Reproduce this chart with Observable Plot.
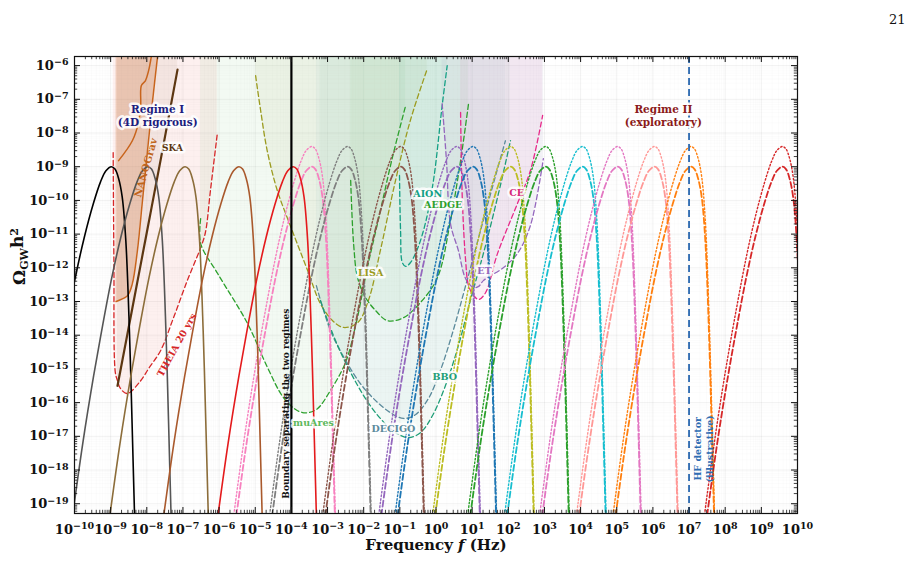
<!DOCTYPE html>
<html><head><meta charset="utf-8">
<script src="https://cdn.jsdelivr.net/npm/d3@7"></script>
<script src="https://cdn.jsdelivr.net/npm/@observablehq/plot@0.6"></script>
<style>body{margin:0;background:#fff;} svg{display:block;}</style>
</head><body><div id="chart"></div>
<script>
// ---- bump template (Δlog10 f from peak, Δlog10 Ω from peak)
const bumpShape = [[-2.4,-13.0],[-2.1,-10.5],[-1.8,-8.2],[-1.5,-6.2],[-1.25,-4.7],[-1.0,-3.3],[-0.75,-2.1],[-0.5,-1.1],[-0.3,-0.45],[-0.15,-0.12],[0,0],[0.1,-0.07],[0.2,-0.35],[0.3,-0.9],[0.4,-2.2],[0.5,-4.9],[0.57,-7.5],[0.64,-10.3],[0.72,-13.5]];
// Regime I solid bumps: peak log10 f, colors
const regimeIPeaks = [-8.98, -7.97, -6.94, -5.45, -3.95];
const regimeIColors = ["#000000","#555555","#8c6d3a","#a9592c","#e41a1c"];
const regimeIPeakOmega = -9.0;
// Regime II dashed / dotted pairs
const regimeIIPeaks = [-3.44,-2.45,-0.98,0.57,1.02,2.06,3.03,4.05,5.02,6.04,7.05,9.58];
const regimeIIColors = ["#f781bf","#7f7f7f","#8c564b","#9467bd","#1f77b4","#bcbd22","#2ca02c","#17becf","#e377c2","#ff9896","#ff7f0e","#d62728"];
const dashedPeakOmega = -9.0;
const dottedPeakOmega = -8.4;

// ---- detector sensitivity curves [log10 f, log10 Ω]
const theiaCurve = [[-8.93,-8.58],[-8.91,-11.79],[-8.87,-15.11],[-8.81,-15.35],[-8.73,-15.58],[-8.54,-15.73],[-8.17,-15.35],[-7.95,-14.99],[-7.62,-14.46],[-7.26,-13.48],[-6.88,-12.38],[-6.51,-11.40],[-6.38,-10.96],[-6.24,-9.71],[-6.05,-8.02]];
const nanogravLower = [[-8.85,-13.0],[-8.78,-12.97],[-8.53,-12.82],[-8.40,-12.47],[-8.26,-11.49],[-8.12,-10.01],[-7.98,-8.52],[-7.84,-7.04],[-7.70,-5.70]];
const nanogravUpper = [[-8.78,-8.82],[-8.40,-8.23],[-8.23,-7.69],[-8.17,-7.19],[-8.15,-6.59],[-8.04,-6.45],[-7.95,-6.15],[-7.87,-5.70]];
const skaCurve = [[-8.81,-15.5],[-8.4,-13.2],[-8.0,-10.95],[-7.6,-8.7],[-7.15,-6.12]];
const muaresCurve = [[-6.51,-10.54],[-6.51,-11.28],[-6.04,-12.17],[-5.21,-13.66],[-4.66,-14.96],[-4.22,-15.85],[-3.83,-16.24],[-3.55,-16.30],[-3.28,-16.18],[-2.92,-15.64],[-2.50,-14.8],[-2.2,-13.6],[-1.9,-12.0],[-1.6,-10.6],[-1.2,-8.7],[-0.84,-7.19]];
const lisaCurve = [[-4.99,-6.30],[-4.85,-7.34],[-4.67,-8.52],[-4.39,-9.71],[-4.12,-10.50],[-3.84,-11.28],[-3.53,-12.14],[-3.20,-13.06],[-2.86,-13.57],[-2.56,-13.77],[-2.17,-13.63],[-1.87,-12.97],[-1.54,-11.49],[-1.12,-9.41],[-0.71,-7.63],[-0.24,-6.09]];
const decigoCurve = [[-3.31,-12.53],[-2.92,-13.86],[-2.50,-14.75],[-2.09,-15.44],[-1.67,-15.94],[-1.26,-16.30],[-0.90,-16.47],[-0.57,-16.36],[-0.21,-15.88],[0.12,-15.05],[0.46,-13.92],[0.82,-12.53],[1.23,-10.90],[1.65,-9.26],[1.92,-8.23]];
const bboCurve = [[-3.20,-12.97],[-2.78,-14.16],[-2.36,-15.11],[-1.95,-15.88],[-1.54,-16.47],[-1.12,-16.89],[-0.76,-17.04],[-0.43,-16.89],[-0.10,-16.39],[0.26,-15.50],[0.62,-14.31],[0.95,-12.97],[1.37,-11.34],[1.78,-9.56],[2.06,-8.23]];
const aionCurve = [[-1.01,-9.26],[-0.98,-10.90],[-0.93,-11.85],[-0.84,-11.96],[-0.71,-11.85],[-0.51,-11.43],[-0.29,-10.66],[-0.07,-9.41],[0.17,-7.19],[0.31,-6.0]];
const aedgeCurve = [[-2.36,-9.41],[-2.28,-11.28],[-2.17,-12.29],[-1.95,-12.88],[-1.67,-13.27],[-1.34,-13.57],[-0.90,-13.48],[-0.43,-13.03],[0.04,-12.29],[0.40,-10.60],[0.68,-8.82],[0.90,-7.13]];
const etCurve = [[0.17,-7.13],[0.29,-8.82],[0.40,-10.69],[0.62,-11.49],[0.82,-12.32],[1.04,-12.59],[1.18,-12.55],[1.31,-12.38],[1.87,-11.99],[2.25,-11.58],[2.61,-10.75],[2.97,-8.76]];
const ceCurve = [[0.68,-7.39],[0.73,-10.01],[0.82,-11.79],[0.90,-12.53],[1.04,-12.82],[1.18,-12.94],[1.37,-12.74],[1.70,-11.58],[2.25,-10.10],[2.61,-9.12],[2.95,-7.48]];

// ---- axis ticks and vertical markers
const xDecades = d3.range(-10, 11);
const yDecades = d3.range(-19, -5);
const boundaryFreq = 1e-4;
const hfDetectorFreq = 1e7;

// ---- text annotations [text, log10 f, log10 Ω]
const annotations = [
  {text:"Regime I\n(4D rigorous)", lf:-7.70, lo:-7.48, color:"#1c1c7e", size:10.5, rotate:0, halo:true},
  {text:"Regime II\n(exploratory)", lf:6.29, lo:-7.48, color:"#8b1a1a", size:10.5, rotate:0, halo:true},
  {text:"NANOGrav", lf:-8.04, lo:-9.03, color:"#c0651c", size:10, rotate:-74, halo:false},
  {text:"SKA", lf:-7.29, lo:-8.43, color:"#5c3611", size:9, rotate:0, halo:true},
  {text:"THEIA 20 yrs", lf:-7.18, lo:-14.28, color:"#d62728", size:9.5, rotate:-61, halo:false},
  {text:"LISA", lf:-1.81, lo:-12.14, color:"#9b9b1f", size:9.5, rotate:0, halo:true},
  {text:"muAres", lf:-3.39, lo:-16.59, color:"#5cb85c", size:9.5, rotate:0, halo:true},
  {text:"DECIGO", lf:-1.18, lo:-16.77, color:"#5b8a9b", size:9.5, rotate:0, halo:true},
  {text:"BBO", lf:0.24, lo:-15.23, color:"#1f9e77", size:9.5, rotate:0, halo:true},
  {text:"AION", lf:-0.23, lo:-9.80, color:"#14a085", size:9.5, rotate:0, halo:true},
  {text:"AEDGE", lf:0.20, lo:-10.12, color:"#2ca02c", size:9.5, rotate:0, halo:true},
  {text:"ET", lf:1.34, lo:-12.08, color:"#9467bd", size:9.5, rotate:0, halo:true},
  {text:"CE", lf:2.23, lo:-9.77, color:"#d6287a", size:9.5, rotate:0, halo:true},
  {text:"Boundary separating the two regimes", lf:-4.16, lo:-16.03, color:"#111", size:9, rotate:-90, halo:false},
  {text:"HF detector\n(illustrative)", lf:7.40, lo:-17.37, color:"#2f6db3", size:9.5, rotate:-90, halo:false}
];

// ---------------------------------------------------------------
const yTop = 10 ** -5.73, yBot = 10 ** -19.29;
const toRows = arr => arr.map(([lf, lo]) => ({f: 10 ** lf, o: 10 ** lo}));
const bumpRows = (peak, peakO) => bumpShape.map(([d, v]) => ({f: 10 ** (peak + d), o: 10 ** (peakO + v)}));

const sens = [
  {rows: toRows(theiaCurve), color: "#d62728", fill: "#f08a80", fo: 0.13},
  {rows: toRows(skaCurve), color: "#5c3611", fill: "#a58a70", fo: 0.1, solid: true, width: 2.2},
  {rows: toRows(muaresCurve), color: "#2ca02c", fill: "#7fc47f", fo: 0.09},
  {rows: toRows(lisaCurve), color: "#9b9b1f", fill: "#b8c080", fo: 0.12},
  {rows: toRows(decigoCurve), color: "#5b8a9b", fill: "#8fb8c4", fo: 0.09},
  {rows: toRows(bboCurve), color: "#1f9e77", fill: "#7cc7ac", fo: 0.08},
  {rows: toRows(aedgeCurve), color: "#2ca02c", fill: "#6cbf6c", fo: 0.08},
  {rows: toRows(aionCurve), color: "#14a085", fill: "#70c0b0", fo: 0.1},
  {rows: toRows(etCurve), color: "#9467bd", fill: "#a89cc8", fo: 0.12},
  {rows: toRows(ceCurve), color: "#e7298a", fill: "#e07fb8", fo: 0.1}
];

const marks = [];
// grid
const xMinor = [], yMinor = [];
for (let k = -10; k < 10; k++) for (let m = 2; m <= 9; m++) xMinor.push(m * 10 ** k);
for (let k = -20; k < -5; k++) for (let m = 2; m <= 9; m++) { const v = m * 10 ** k; if (v > yBot && v < yTop) yMinor.push(v); }
const xMaj = xDecades.map(k => 10 ** k), yMaj = yDecades.map(k => 10 ** k);
marks.push(Plot.ruleX(xMinor, {stroke: "#000", strokeOpacity: 0.03, strokeWidth: 0.6}));
marks.push(Plot.ruleY(yMinor, {stroke: "#000", strokeOpacity: 0.03, strokeWidth: 0.6}));
marks.push(Plot.ruleX(xMaj, {stroke: "#000", strokeOpacity: 0.07, strokeWidth: 0.8}));
marks.push(Plot.ruleY(yMaj, {stroke: "#000", strokeOpacity: 0.07, strokeWidth: 0.8}));

// fills
for (const s of sens) marks.push(Plot.area(s.rows, {x1: "f", y1: "o", y2: yTop, fill: s.fill, fillOpacity: s.fo, curve: "catmull-rom", clip: true}));
marks.push(Plot.area(toRows(nanogravLower), {x1: "f", y1: "o", y2: yTop, fill: "#c8692a", fillOpacity: 0.26, curve: "catmull-rom", clip: true}));

// sensitivity lines
for (const s of sens) marks.push(Plot.line(s.rows, {x: "f", y: "o", stroke: s.color, strokeWidth: s.width || 1.3, strokeDasharray: s.solid ? null : "5,3", curve: "catmull-rom", clip: true}));
marks.push(Plot.line(toRows(nanogravLower), {x: "f", y: "o", stroke: "#c8641c", strokeWidth: 1.5, curve: "catmull-rom", clip: true}));
marks.push(Plot.line(toRows(nanogravUpper), {x: "f", y: "o", stroke: "#c8641c", strokeWidth: 1.5, curve: "catmull-rom", clip: true}));

// regime II bumps
regimeIIPeaks.forEach((p, i) => {
  marks.push(Plot.line(bumpRows(p, dottedPeakOmega), {x: "f", y: "o", stroke: regimeIIColors[i], strokeWidth: 1.4, strokeDasharray: "1.5,2.2", curve: "catmull-rom", clip: true}));
  marks.push(Plot.line(bumpRows(p, dashedPeakOmega), {x: "f", y: "o", stroke: regimeIIColors[i], strokeWidth: 1.8, strokeDasharray: "6,3", curve: "catmull-rom", clip: true}));
});
// regime I bumps
regimeIPeaks.forEach((p, i) => {
  marks.push(Plot.line(bumpRows(p, regimeIPeakOmega), {x: "f", y: "o", stroke: regimeIColors[i], strokeWidth: 1.6, curve: "catmull-rom", clip: true}));
});

// boundary and HF line
marks.push(Plot.ruleX([boundaryFreq], {stroke: "#000", strokeWidth: 2.2}));
marks.push(Plot.ruleX([hfDetectorFreq], {stroke: "#2a68b0", strokeWidth: 1.8, strokeDasharray: "7,4"}));

// annotations
for (const a of annotations) {
  marks.push(Plot.text([a], {x: d => 10 ** d.lf, y: d => 10 ** d.lo, text: "text", fill: a.color, fontSize: a.size, fontWeight: "bold", fontFamily: "DejaVu Serif", rotate: a.rotate, lineHeight: 1.2,
    stroke: a.halo ? "white" : null, strokeWidth: a.halo ? 5 : 0, strokeOpacity: 0.85, strokeLinejoin: "round"}));
}

// frame
marks.push(Plot.frame({stroke: "#111", strokeWidth: 1.2}));
// inward ticks (major 6px, minor 3px)
const pxX = 36.15, pxY = 33.7;
const lyT = Math.log10(yTop), lyB = Math.log10(yBot);
marks.push(Plot.ruleX(xMaj, {y1: yBot, y2: 10 ** (lyB + 6 / pxY), stroke: "#111", strokeWidth: 1}));
marks.push(Plot.ruleX(xMaj, {y1: yTop, y2: 10 ** (lyT - 6 / pxY), stroke: "#111", strokeWidth: 1}));
marks.push(Plot.ruleX(xMinor, {y1: yBot, y2: 10 ** (lyB + 3.2 / pxY), stroke: "#111", strokeWidth: 0.8}));
marks.push(Plot.ruleX(xMinor, {y1: yTop, y2: 10 ** (lyT - 3.2 / pxY), stroke: "#111", strokeWidth: 0.8}));
marks.push(Plot.ruleY(yMaj, {x1: 1e-10, x2: 10 ** (-10 + 6 / pxX), stroke: "#111", strokeWidth: 1}));
marks.push(Plot.ruleY(yMaj, {x1: 1e10, x2: 10 ** (10 - 6 / pxX), stroke: "#111", strokeWidth: 1}));
marks.push(Plot.ruleY(yMinor, {x1: 1e-10, x2: 10 ** (-10 + 3.2 / pxX), stroke: "#111", strokeWidth: 0.8}));
marks.push(Plot.ruleY(yMinor, {x1: 1e10, x2: 10 ** (10 - 3.2 / pxX), stroke: "#111", strokeWidth: 0.8}));

// tick labels
marks.push(Plot.axisX({ticks: xMaj, tickSize: 0, tickPadding: 11, tickFormat: d => "10^" + Math.round(Math.log10(d)), fontSize: 13, fontWeight: "bold", fontFamily: "DejaVu Serif", fill: "#111", label: null}));
marks.push(Plot.axisY({ticks: yMaj, tickSize: 0, tickPadding: 6, tickFormat: d => "10^" + Math.round(Math.log10(d)), fontSize: 13, fontWeight: "bold", fontFamily: "DejaVu Serif", fill: "#111", label: null}));

// axis titles and page number
marks.push(Plot.text(["Frequency f (Hz)"], {frameAnchor: "bottom", dy: 36, fontSize: 15, fontWeight: "bold", fontFamily: "DejaVu Serif", fill: "#111"}));
marks.push(Plot.text(["OGWh2"], {frameAnchor: "left", dx: -55, rotate: -90, fontSize: 17, fontWeight: "bold", fontFamily: "DejaVu Serif", fill: "#111"}));
marks.push(Plot.text(["21"], {frameAnchor: "top-right", dx: 108, dy: -42, fontSize: 13, fontFamily: "DejaVu Serif", fill: "#111"}));

const chart = Plot.plot({
  width: 922, height: 563,
  marginLeft: 74, marginRight: 125, marginTop: 56, marginBottom: 50,
  x: {type: "log", domain: [1e-10, 1e10]},
  y: {type: "log", domain: [yBot, yTop]},
  style: {background: "#fff", fontFamily: "DejaVu Serif"},
  marks
});
document.getElementById("chart").append(chart);

// superscript / subscript rendering of tick labels and axis titles
d3.select(chart).selectAll("text").each(function() {
  const t = d3.select(this); const s = this.textContent;
  const m = s.match(/^10\^(-?\d+)$/);
  if (m) {
    t.text(null); t.append("tspan").text("10");
    t.append("tspan").attr("dy", "-0.45em").attr("font-size", "9.5px").text(m[1].replace("-", "\u2212"));
  } else if (s === "Frequency f (Hz)") {
    t.text(null);
    t.append("tspan").text("Frequency ");
    t.append("tspan").attr("font-style", "italic").text("f");
    t.append("tspan").text(" (Hz)");
  } else if (s === "OGWh2") {
    t.text(null);
    t.append("tspan").text("\u03A9");
    t.append("tspan").attr("dy", "0.3em").attr("font-size", "11px").text("GW");
    t.append("tspan").attr("dy", "-0.3em").text("h");
    t.append("tspan").attr("dy", "-0.5em").attr("font-size", "11px").text("2");
  }
});
</script></body></html>
